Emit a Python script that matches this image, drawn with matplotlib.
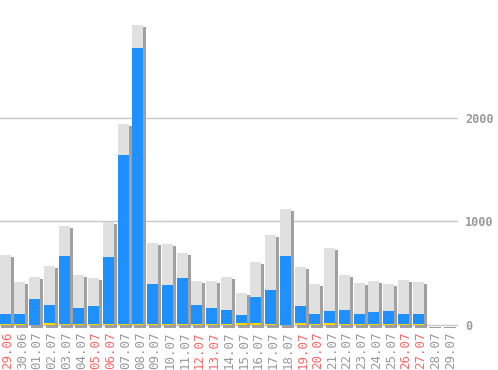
import numpy as np
import matplotlib
matplotlib.use("Agg")
import matplotlib.pyplot as plt
from matplotlib.transforms import ScaledTranslation

dates = ["29.06", "30.06", "01.07", "02.07", "03.07", "04.07", "05.07", "06.07",
         "07.07", "08.07", "09.07", "10.07", "11.07", "12.07", "13.07", "14.07",
         "15.07", "16.07", "17.07", "18.07", "19.07", "20.07", "21.07", "22.07",
         "23.07", "24.07", "25.07", "26.07", "27.07", "28.07", "29.07"]
weekend = ["29.06", "05.07", "06.07", "12.07", "13.07", "19.07", "20.07", "26.07", "27.07"]
total = [675, 415, 463, 569, 955, 482, 453, 994, 1938, 2890, 791, 781, 694, 424, 424,
         463, 309, 608, 868, 1119, 559, 395, 742, 482, 405, 424, 395, 434, 415, 0, 0]
blue = [106, 106, 250, 193, 665, 164, 183, 656, 1639, 2672, 395, 386, 453, 193, 164,
        145, 96, 270, 338, 665, 183, 106, 135, 145, 106, 125, 135, 106, 106, 0, 0]
yellow = [10, 10, 0, 22, 10, 10, 10, 10, 10, 10, 10, 10, 10, 10, 10,
          10, 22, 22, 10, 0, 22, 10, 22, 10, 10, 10, 10, 10, 10, 0, 0]
yticks = [0, 1000, 2000]

fig = plt.figure(figsize=(4.98, 3.70), dpi=100)
ax = fig.add_axes([0, 40 / 370, 458 / 498, 330 / 370])
x = np.arange(len(dates))
w = 0.75

# grid lines
for t in yticks:
    ax.axhline(t, color="#c8c8c8", lw=1, zorder=0)

shadow = ax.transData + ScaledTranslation(2 / 100, -2 / 100, fig.dpi_scale_trans)
ax.bar(x, total, w, color="#a0a0a0", edgecolor="#a0a0a0", lw=0.6,
       transform=shadow, zorder=1, antialiased=False)
ax.bar(x, total, w, color="#e0e0e0", zorder=2, antialiased=False)
ax.bar(x, blue, w, color="#1e90ff", zorder=3, antialiased=False)
ax.bar(x, yellow, w, color="#ffd700", zorder=4, antialiased=False)

ax.set_xlim(-0.34, 30.7)
ax.set_ylim(-48, 3134)

ax.yaxis.tick_right()
ax.set_yticks(yticks)
ax.set_yticklabels([str(t) for t in yticks], family="DejaVu Sans Mono",
                   fontsize=8.5, fontweight="bold", color="#999999")
ax.tick_params(axis="y", length=0, pad=5)

ax.set_xticks(x)
ax.set_xticklabels(dates, rotation=90, family="DejaVu Sans Mono", fontsize=9)
ax.tick_params(axis="x", length=0, pad=1)
off = ScaledTranslation(2.5 / 100, 0, fig.dpi_scale_trans)
for lab in ax.get_xticklabels():
    lab.set_color("#ff6666" if lab.get_text() in weekend else "#999999")
    lab.set_transform(lab.get_transform() + off)

for s in ax.spines.values():
    s.set_visible(False)

fig.savefig("out.png", dpi=100)
